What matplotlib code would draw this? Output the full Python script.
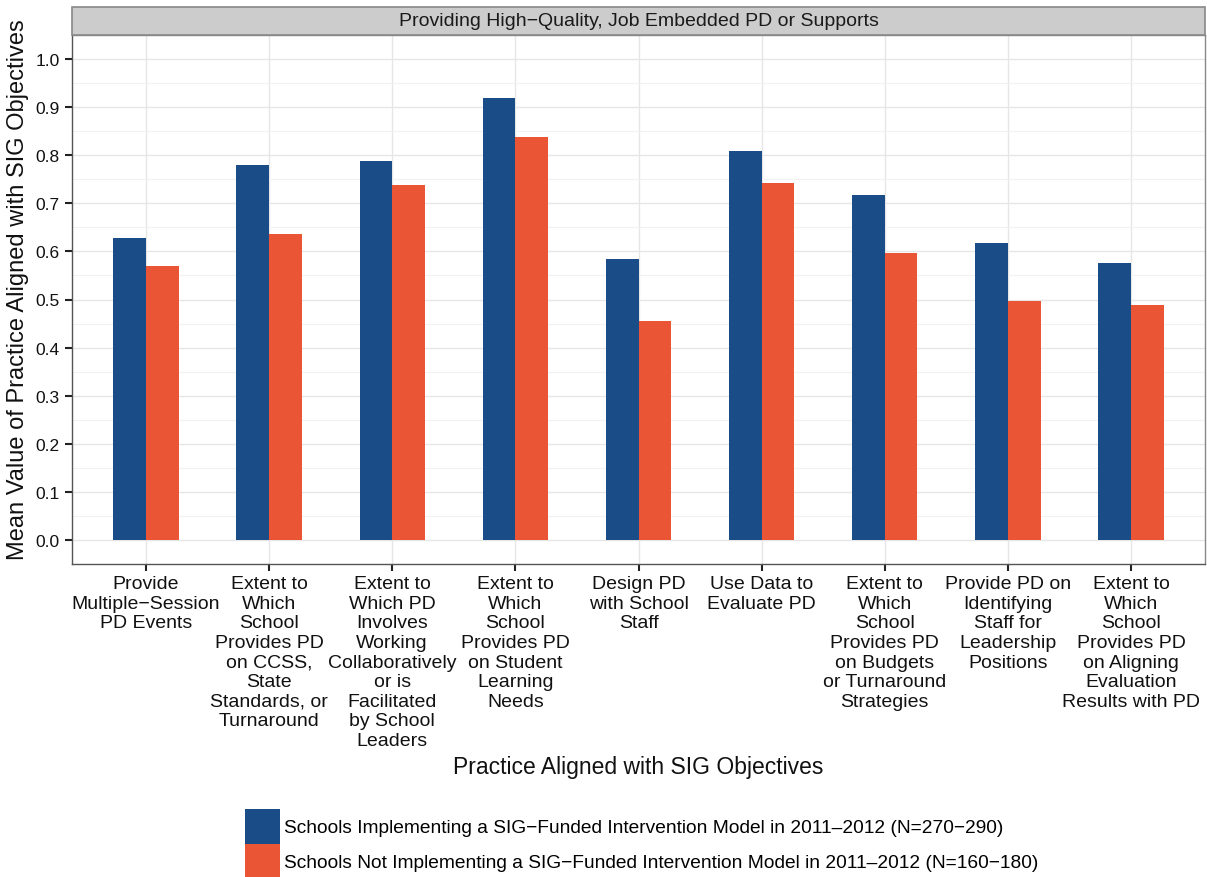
import matplotlib
matplotlib.use("Agg")
import matplotlib.pyplot as plt
from matplotlib.patches import Patch, Rectangle
import numpy as np

plt.rcParams['font.family'] = ['Liberation Sans', 'DejaVu Sans']

categories = [
    "Provide\nMultiple\u2212Session\nPD Events",
    "Extent to\nWhich\nSchool\nProvides PD\non CCSS,\nState\nStandards, or\nTurnaround",
    "Extent to\nWhich PD\nInvolves\nWorking\nCollaboratively\nor is\nFacilitated\nby School\nLeaders",
    "Extent to\nWhich\nSchool\nProvides PD\non Student\nLearning\nNeeds",
    "Design PD\nwith School\nStaff",
    "Use Data to\nEvaluate PD",
    "Extent to\nWhich\nSchool\nProvides PD\non Budgets\nor Turnaround\nStrategies",
    "Provide PD on\nIdentifying\nStaff for\nLeadership\nPositions",
    "Extent to\nWhich\nSchool\nProvides PD\non Aligning\nEvaluation\nResults with PD",
]
sig_values = [0.628, 0.780, 0.787, 0.918, 0.585, 0.809, 0.717, 0.617, 0.576]
nonsig_values = [0.570, 0.636, 0.739, 0.837, 0.455, 0.742, 0.596, 0.496, 0.489]
series_labels = [
    "Schools Implementing a SIG\u2212Funded Intervention Model in 2011\u20132012 (N=270\u2212290)",
    "Schools Not Implementing a SIG\u2212Funded Intervention Model in 2011\u20132012 (N=160\u2212180)",
]
panel_title = "Providing High\u2212Quality, Job Embedded PD or Supports"
x_title = "Practice Aligned with SIG Objectives"
y_title = "Mean Value of Practice Aligned with SIG Objectives"
y_ticks = [0.0, 0.1, 0.2, 0.3, 0.4, 0.5, 0.6, 0.7, 0.8, 0.9, 1.0]

blue = "#1A4D88"
orange = "#EA5635"
txt = "#111111"

W, H = 1207, 878
fig = plt.figure(figsize=(W / 100, H / 100), dpi=100)
left, right, bottom, top = 72, 1205, 565, 36
ax = fig.add_axes([left / W, 1 - bottom / H, (right - left) / W, (bottom - top) / H])

x = np.arange(1, len(categories) + 1)
bw = 0.265
ax.bar(x - bw / 2, sig_values, width=bw, color=blue, zorder=3, label=series_labels[0])
ax.bar(x + bw / 2, nonsig_values, width=bw, color=orange, zorder=3, label=series_labels[1])

ax.set_xlim(0.4, len(categories) + 0.6)
ax.set_ylim(-0.05, 1.05)
ax.set_yticks(y_ticks)
ax.set_yticklabels([f"{v:.1f}" for v in y_ticks])
ax.set_yticks(np.arange(-0.05, 1.06, 0.1), minor=True)
ax.set_xticks(x)
ax.set_xticklabels(categories, fontsize=14, color=txt, linespacing=1.2)
ax.tick_params(axis='y', labelsize=12.5, labelcolor=txt, length=5, width=1.5, color="#222222", pad=4)
ax.tick_params(axis='x', length=5, width=1.5, color="#222222", pad=3)
ax.tick_params(axis='y', which='minor', length=0)

ax.grid(True, which='major', color="#E6E6E6", linewidth=1.0, zorder=0)
ax.grid(True, which='minor', axis='y', color="#F2F2F2", linewidth=0.8, zorder=0)
ax.set_axisbelow(True)
for s in ax.spines.values():
    s.set_color("#888888")
    s.set_linewidth(1.0)
ax.spines['left'].set_color("#555555")
ax.spines['bottom'].set_color("#555555")

fig.text((left + right) / 2 / W, 1 - 768 / H, x_title, fontsize=16.5,
         ha='center', va='center', color=txt)
fig.text(18 / W, 1 - 290 / H, y_title,
         rotation=90, fontsize=17, ha='center', va='center', color=txt)

# strip
strip_top = 8
strip = Rectangle((left / W, 1 - top / H), (right - left) / W, (top - strip_top) / H,
                  transform=fig.transFigure, facecolor="#CCCCCC", edgecolor="#888888",
                  linewidth=1.2, zorder=1)
fig.add_artist(strip)
fig.text((left + right) / 2 / W, 1 - (top + strip_top) / 2 / H, panel_title,
         fontsize=14, ha='center', va='center', color="#1a1a1a")

handles = [Patch(facecolor=blue, edgecolor='none'), Patch(facecolor=orange, edgecolor='none')]
fs = 13.8
fig.legend(handles, series_labels, loc='upper left',
           bbox_to_anchor=(243 / W, 1 - 808 / H), frameon=False, fontsize=fs,
           handlelength=1.82, handleheight=2.4, labelspacing=0.0, handletextpad=0.2,
           borderpad=0.1, borderaxespad=0)

fig.savefig("out.png", dpi=100)
